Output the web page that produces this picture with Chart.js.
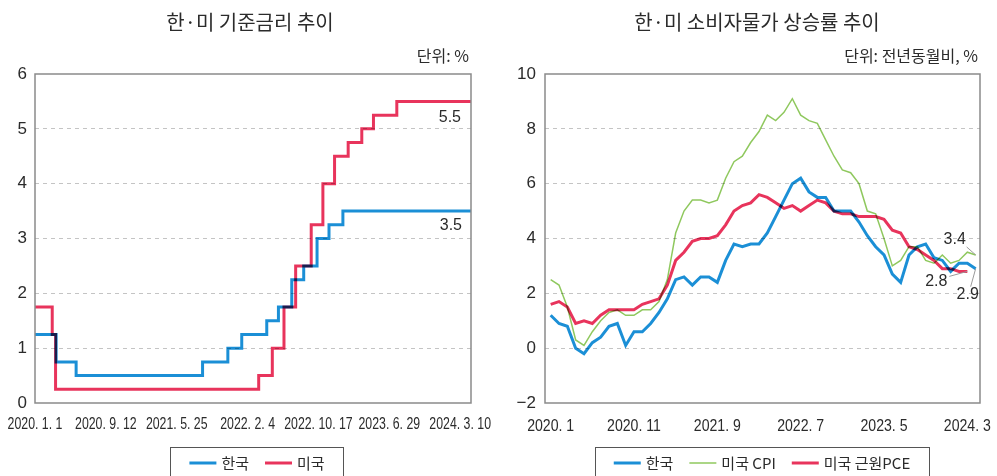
<!DOCTYPE html>
<html>
<head>
<meta charset="utf-8">
<script src="https://cdn.jsdelivr.net/npm/chart.js@4.4.1/dist/chart.umd.min.js"></script>
<style>
  body { margin: 0; background: #fff; }
  .panel { position: absolute; top: 0; height: 476px; }
</style>
</head>
<body>
<div class="panel" style="left:0;width:500px"><canvas id="chart-rate" width="500" height="476"></canvas></div>
<div class="panel" style="left:500px;width:497px"><canvas id="chart-cpi" width="497" height="476"></canvas></div>

<script>
// ---- data: policy rates (change dates / new level) ----
var rateStart = '2020-01-01';
var rateAxisEnd = '2024-04-18';
var rateTickStep = 255; // days between x labels
var rateTickLabels = ['2020. 1. 1', '2020. 9. 12', '2021. 5. 25', '2022. 2. 4', '2022. 10. 17', '2023. 6. 29', '2024. 3. 10'];

var krRateDates = ['2020-01-01', '2020-03-17', '2020-05-28', '2021-08-26', '2021-11-25', '2022-01-14', '2022-04-14',
                   '2022-05-26', '2022-07-13', '2022-08-25', '2022-10-12', '2022-11-24', '2023-01-13'];
var krRateValues = [1.25, 0.75, 0.5, 0.75, 1.0, 1.25, 1.5, 1.75, 2.25, 2.5, 3.0, 3.25, 3.5];

var usRateDates = ['2020-01-01', '2020-03-03', '2020-03-15', '2022-03-16', '2022-05-04', '2022-06-15', '2022-07-27',
                   '2022-09-21', '2022-11-02', '2022-12-14', '2023-02-01', '2023-03-22', '2023-05-03', '2023-07-26'];
var usRateValues = [1.75, 1.25, 0.25, 0.5, 1.0, 1.75, 2.5, 3.25, 4.0, 4.5, 4.75, 5.0, 5.25, 5.5];

// ---- data: inflation, monthly from 2020.1 ----
var cpiTickLabels = ['2020. 1', '2020. 11', '2021. 9', '2022. 7', '2023. 5', '2024. 3'];
var cpiTickStep = 10; // months between x labels

var krCpi = [1.2, 0.9, 0.8, 0.0, -0.2, 0.2, 0.4, 0.8, 0.9, 0.1, 0.6, 0.6,
             0.9, 1.3, 1.8, 2.5, 2.6, 2.3, 2.6, 2.6, 2.4, 3.2, 3.8, 3.7,
             3.8, 3.8, 4.2, 4.8, 5.4, 6.0, 6.2, 5.7, 5.5, 5.5, 5.0, 5.0,
             5.0, 4.6, 4.1, 3.7, 3.4, 2.7, 2.4, 3.4, 3.7, 3.8, 3.3, 3.2,
             2.8, 3.1, 3.1, 2.9];
var usCpi = [2.5, 2.3, 1.5, 0.3, 0.1, 0.6, 1.0, 1.3, 1.4, 1.2, 1.2, 1.4,
             1.4, 1.7, 2.5, 4.2, 5.0, 5.4, 5.4, 5.3, 5.4, 6.2, 6.8, 7.0,
             7.5, 7.9, 8.5, 8.3, 8.6, 9.1, 8.5, 8.3, 8.2, 7.6, 7.0, 6.5,
             6.4, 6.0, 5.0, 4.9, 4.0, 3.0, 3.2, 3.7, 3.7, 3.2, 3.1, 3.4,
             3.1, 3.2, 3.5, 3.4];
var usCorePce = [1.6, 1.7, 1.5, 0.9, 1.0, 0.9, 1.2, 1.4, 1.4, 1.4, 1.4, 1.6,
                 1.7, 1.8, 2.3, 3.2, 3.5, 3.9, 4.0, 4.0, 4.1, 4.5, 5.0, 5.2,
                 5.3, 5.6, 5.5, 5.3, 5.1, 5.2, 5.0, 5.2, 5.4, 5.3, 5.0, 4.9,
                 4.9, 4.8, 4.8, 4.8, 4.7, 4.3, 4.2, 3.7, 3.6, 3.4, 3.2, 2.9,
                 2.9, 2.8, 2.8];

var BLUE = '#1b8fd6';
var RED = '#e8345c';
var GREEN = '#8fc85e';
var TEXT = '#2b2b2b';
var KFONT = '"Noto Sans CJK KR", "Noto Sans", sans-serif';
var NFONT = '"Liberation Sans", Arial, sans-serif';

Chart.defaults.color = TEXT;
Chart.defaults.font.family = NFONT;

function dayIndex(d) {
  return Math.round((Date.parse(d) - Date.parse(rateStart)) / 86400000);
}

function toSteps(dates, values) {
  var pts = dates.map(function(d, i) { return { x: dayIndex(d), y: values[i] }; });
  pts.push({ x: dayIndex(rateAxisEnd), y: values[values.length - 1] });
  return pts;
}

function toMonths(values) {
  return values.map(function(v, i) { return { x: i, y: v }; });
}

// frame, titles, condensed x labels, end labels and boxed legend
var panelPlugin = {
  id: 'panel',
  beforeDatasetsDraw: function(chart) {
    chart.ctx.save();
    chart.ctx.globalCompositeOperation = 'multiply';
  },
  afterDatasetsDraw: function(chart) {
    chart.ctx.restore();
  },
  afterDraw: function(chart, args, opts) {
    var ctx = chart.ctx, a = chart.chartArea;
    ctx.save();
    ctx.strokeStyle = '#8a8a8a';
    ctx.lineWidth = 1.5;
    ctx.strokeRect(a.left, a.top, a.right - a.left, a.bottom - a.top);

    ctx.fillStyle = TEXT;
    ctx.textBaseline = 'middle';
    ctx.font = '20px ' + KFONT;
    ctx.textAlign = 'center';
    ctx.fillText(opts.title, opts.titleX, 22);
    ctx.font = '16px ' + KFONT;
    ctx.textAlign = 'right';
    ctx.fillText(opts.unit, a.right - 2, 56);

    // x tick labels, narrow like the print font
    var xs = chart.scales.x;
    ctx.font = opts.tickSize + 'px ' + NFONT;
    ctx.textAlign = 'center';
    xs.ticks.forEach(function(t, i) {
      ctx.save();
      ctx.translate(xs.getPixelForTick(i), opts.tickY);
      ctx.scale(opts.condense, 1);
      ctx.fillText(t.label, 0, 0);
      ctx.restore();
    });

    // end-value notes
    ctx.font = '16px ' + NFONT;
    opts.notes.forEach(function(n) {
      var meta = chart.getDatasetMeta(n.dataset);
      var values = chart.data.datasets[n.dataset].data;
      var end = meta.data[meta.data.length - 1];
      var txt = values[values.length - 1].y.toFixed(1);
      if (n.leader) {
        ctx.strokeStyle = '#9a9a9a';
        ctx.lineWidth = 1;
        ctx.beginPath();
        ctx.moveTo(end.x + n.leader[0], end.y + n.leader[1]);
        ctx.lineTo(end.x + n.leader[2], end.y + n.leader[3]);
        ctx.stroke();
      }
      ctx.textAlign = n.align;
      ctx.fillStyle = TEXT;
      ctx.fillText(txt, end.x + n.dx, end.y + n.dy);
    });

    // legend box
    var sets = chart.data.datasets;
    ctx.font = '15px ' + KFONT;
    var lineLen = 27, gap = 5, itemGap = 16, pad = 19;
    var widths = sets.map(function(s) { return lineLen + gap + ctx.measureText(s.label).width; });
    var total = widths.reduce(function(p, w) { return p + w; }, 0) + itemGap * (sets.length - 1);
    var boxW = total + pad * 2;
    var bx = opts.legendX - boxW / 2, by = 447;
    ctx.strokeStyle = '#555';
    ctx.lineWidth = 1;
    ctx.strokeRect(Math.round(bx) + 0.5, by + 0.5, Math.round(boxW), 40);
    var x = bx + pad, cy = 463;
    sets.forEach(function(s, i) {
      ctx.strokeStyle = s.borderColor;
      ctx.lineWidth = s.borderWidth;
      ctx.beginPath();
      ctx.moveTo(x, cy);
      ctx.lineTo(x + lineLen, cy);
      ctx.stroke();
      ctx.fillStyle = TEXT;
      ctx.textAlign = 'left';
      ctx.fillText(s.label, x + lineLen + gap, cy);
      x += widths[i] + itemGap;
    });
    ctx.restore();
  }
};

function gridColor(ctx) {
  var s = ctx.scale;
  if (ctx.tick.value === s.min || ctx.tick.value === s.max) return 'rgba(0,0,0,0)';
  return '#c4c4c4';
}

var rateChart = new Chart(document.getElementById('chart-rate').getContext('2d'), {
  type: 'line',
  data: {
    datasets: [{
      label: '한국',
      data: toSteps(krRateDates, krRateValues),
      borderColor: BLUE,
      borderWidth: 3,
      stepped: 'before',
      pointRadius: 0
    }, {
      label: '미국',
      data: toSteps(usRateDates, usRateValues),
      borderColor: RED,
      borderWidth: 3,
      stepped: 'before',
      pointRadius: 0
    }]
  },
  options: {
    responsive: false,
    animation: false,
    layout: { padding: { left: 0, right: 29, top: 74, bottom: 43 } },
    scales: {
      x: {
        type: 'linear',
        min: 0,
        max: dayIndex(rateAxisEnd),
        grid: { display: false, drawTicks: false },
        border: { display: false },
        afterBuildTicks: function(scale) {
          scale.ticks = rateTickLabels.map(function(l, i) { return { value: i * rateTickStep }; });
        },
        afterFit: function(scale) { scale.height = 30; scale.paddingLeft = 0; scale.paddingRight = 0; },
        ticks: {
          display: false, maxRotation: 0, autoSkip: false,
          callback: function(v) { return rateTickLabels[Math.round(v / rateTickStep)]; }
        }
      },
      y: {
        min: 0, max: 6,
        grid: { color: gridColor, drawTicks: false, lineWidth: 1 },
        border: { display: false, dash: [4, 4] },
        afterFit: function(scale) { scale.width = 35; },
        ticks: { stepSize: 1, padding: 8, font: { size: 17 } }
      }
    },
    plugins: {
      legend: { display: false },
      tooltip: { enabled: false },
      panel: {
        title: '한·미 기준금리 추이',
        titleX: 250,
        unit: '단위: %',
        legendX: 257,
        tickSize: 16,
        tickY: 425,
        condense: 0.77,
        notes: [
          { dataset: 1, dx: -10, dy: 16, align: 'right' },
          { dataset: 0, dx: -9, dy: 15, align: 'right' }
        ]
      }
    }
  },
  plugins: [panelPlugin]
});

var cpiChart = new Chart(document.getElementById('chart-cpi').getContext('2d'), {
  type: 'line',
  data: {
    datasets: [{
      label: '한국',
      data: toMonths(krCpi),
      borderColor: BLUE,
      borderWidth: 3,
      pointRadius: 0
    }, {
      label: '미국 CPI',
      data: toMonths(usCpi),
      borderColor: GREEN,
      borderWidth: 1.5,
      pointRadius: 0
    }, {
      label: '미국 근원PCE',
      data: toMonths(usCorePce),
      borderColor: RED,
      borderWidth: 3,
      pointRadius: 0
    }]
  },
  options: {
    responsive: false,
    animation: false,
    layout: { padding: { left: 0, right: 17, top: 74, bottom: 43 } },
    scales: {
      x: {
        type: 'linear',
        min: -0.68,
        max: 51.52,
        grid: { display: false, drawTicks: false },
        border: { display: false },
        afterBuildTicks: function(scale) {
          scale.ticks = cpiTickLabels.map(function(l, i) { return { value: i * cpiTickStep }; });
        },
        afterFit: function(scale) { scale.height = 30; scale.paddingLeft = 0; scale.paddingRight = 0; },
        ticks: {
          display: false, maxRotation: 0, autoSkip: false,
          callback: function(v) { return cpiTickLabels[Math.round(v / cpiTickStep)]; }
        }
      },
      y: {
        min: -2, max: 10,
        grid: { color: gridColor, drawTicks: false, lineWidth: 1 },
        border: { display: false, dash: [4, 4] },
        afterFit: function(scale) { scale.width = 45; },
        ticks: {
          stepSize: 2, padding: 9, font: { size: 17 },
          callback: function(v) { return v < 0 ? '\u2212' + Math.abs(v) : v; }
        }
      }
    },
    plugins: {
      legend: { display: false },
      tooltip: { enabled: false },
      panel: {
        title: '한·미 소비자물가 상승률 추이',
        titleX: 257,
        unit: '단위: 전년동월비, %',
        legendX: 262,
        tickSize: 17,
        tickY: 426,
        condense: 0.83,
        notes: [
          { dataset: 1, dx: -21, dy: -15, align: 'center', leader: [-9, -8, 0, 0] },
          { dataset: 2, dx: -31, dy: 10, align: 'center', leader: [-18, 5, 0, 0] },
          { dataset: 0, dx: -8, dy: 26, align: 'center', leader: [0, 0, -5, 18] }
        ]
      }
    }
  },
  plugins: [panelPlugin]
});
</script>
</body>
</html>
